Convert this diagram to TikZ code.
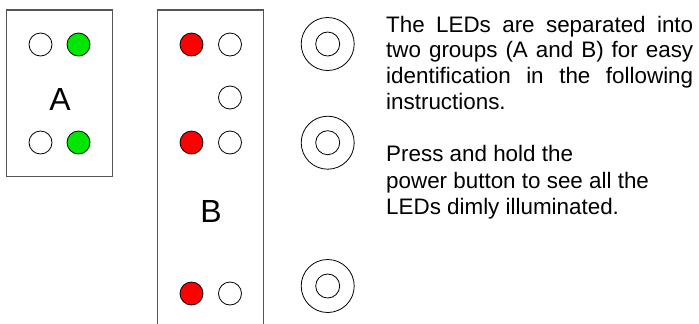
\documentclass[tikz,border=0pt]{standalone}
\usepackage{fontspec}
\setmainfont{Liberation Sans}
\definecolor{ledgreen}{RGB}{0,230,0}
\definecolor{ledred}{RGB}{255,0,0}
\definecolor{boxgray}{RGB}{85,85,85}
\begin{document}
\begin{tikzpicture}[x=1bp,y=-1bp,
  led/.style={circle, draw=black, line width=0.8bp, minimum size=23bp, inner sep=0pt, fill=white},
  ledgreenon/.style={led, fill=ledgreen},
  ledredon/.style={led, fill=ledred},
  btnouter/.style={circle, draw=black, line width=0.8bp, minimum size=53bp, inner sep=0pt},
  btninner/.style={circle, draw=black, line width=0.8bp, minimum size=24bp, inner sep=0pt},
  panel/.style={draw=boxgray, line width=1.2bp},
  txt/.style={anchor=base west, inner sep=0pt, font=\fontsize{22.4bp}{25.6bp}\selectfont},
  biglabel/.style={anchor=base, inner sep=0pt, font=\fontsize{32bp}{38bp}\selectfont}]
\useasboundingbox (0,0) rectangle (699,323);

% group A panel
\draw[panel] (6.7,10) rectangle (112.3,176.3);
\node[led] (a1) at (40.5,44.5) {};
\node[ledgreenon] (a2) at (78.5,44.5) {};
\node[led] (a3) at (40.5,142.5) {};
\node[ledgreenon] (a4) at (78.5,142.5) {};
\node[biglabel] (la) at (60,110) {A};

% group B panel (open at the bottom)
\draw[panel] (157.5,324) -- (157.5,10) -- (263.5,10) -- (263.5,324);
\node[ledredon] (b1) at (191.5,44.5) {};
\node[led] (b2) at (230,44.5) {};
\node[led] (b3) at (230,97.5) {};
\node[ledredon] (b4) at (191.5,142.5) {};
\node[led] (b5) at (230,142.5) {};
\node[ledredon] (b6) at (191.5,293.5) {};
\node[led] (b7) at (230,293.5) {};
\node[biglabel] (lb) at (211,222.7) {B};

% buttons
\node[btnouter] (p1) at (327.7,44) {};
\node[btninner] (q1) at (327.7,44) {};
\node[btnouter] (p2) at (327.7,142.7) {};
\node[btninner] (q2) at (327.7,142.7) {};
\node[btnouter] (p3) at (327.7,286) {};
\node[btninner] (q3) at (327.7,286) {};

% text
\node[txt] (t1) at (386,32.3) {\makebox[307bp][s]{The LEDs are separated into}};
\node[txt] (t2) at (386,57.9) {\makebox[307bp][s]{two groups (A and B) for easy}};
\node[txt] (t3) at (386,83.5) {\makebox[307bp][s]{identification in the following}};
\node[txt] (t4) at (386,109.1) {instructions.};
\node[txt] (t5) at (386,161.5) {Press and hold the};
\node[txt] (t6) at (386,188) {power button to see all the};
\node[txt] (t7) at (386,214.5) {LEDs dimly illuminated.};
\end{tikzpicture}
\end{document}
